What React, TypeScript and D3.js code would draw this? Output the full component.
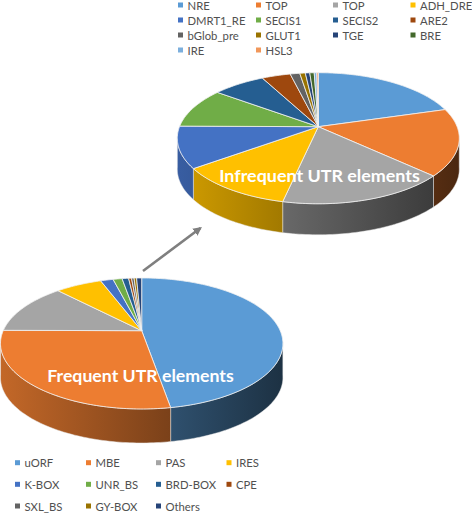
import React from "react";
import * as d3 from "d3";

const width = 472;
const height = 514;

// percent of each pie
const frequentNames = ["uORF", "MBE", "PAS", "IRES", "K-BOX", "UNR_BS", "BRD-BOX", "CPE", "SXL_BS", "GY-BOX", "Others"];
const frequentValues = [47.3, 27.8, 12.8, 6.4, 1.75, 1.25, 0.9, 0.4, 0.35, 0.35, 0.7];

const infrequentNames = ["NRE", "TOP", "TOP", "ADH_DRE", "DMRT1_RE", "SECIS1", "SECIS2", "ARE2", "bGlob_pre", "GLUT1", "TGE", "BRE", "IRE", "HSL3"];
const infrequentValues = [20.4, 16.5, 16.4, 11.5, 10.2, 10, 7.1, 3.9, 1.3, 0.75, 0.6, 0.6, 0.35, 0.2];

const palette = ["#5b9bd5", "#ed7d31", "#a5a5a5", "#ffc000", "#4472c4", "#70ad47", "#255e91", "#9e480e", "#636363", "#997300", "#264478", "#43682b", "#7cafdd", "#f1975a"];

const fontFamily = "Lato, 'Open Sans', sans-serif";

interface PieSpec {
  id: string;
  cx: number;
  cy: number;
  radius: number;
  squash: number;
  tilt: number; // perspective, moves the apex up from the ellipse centre
  depth: number;
}

const linePath = d3.line<[number, number]>().curve(d3.curveLinearClosed);

// rim point for an angle measured clockwise from the top
const project = (p: PieSpec, a: number, drop = 0): [number, number] => {
  const u = Math.sin(a);
  const v = -Math.cos(a);
  const w = 1 - p.tilt * v;
  return [p.cx + (p.radius * u) / w, p.cy + (p.squash * v) / w + drop];
};

const samples = (a0: number, a1: number) => {
  const n = Math.max(2, Math.ceil((a1 - a0) / 0.02));
  return d3.range(n + 1).map(i => a0 + ((a1 - a0) * i) / n);
};

const Pie3D: React.FC<{ spec: PieSpec; names: string[]; values: number[] }> = ({ spec, names, values }) => {
  const color = d3.scaleOrdinal<number, string>(d3.range(names.length), palette);
  const arcs = d3.pie<number>().sort(null)(values);

  const shade = d3
    .scaleLinear()
    .domain([spec.cx - spec.radius, spec.cx + spec.radius])
    .range([0.18, 0.68]);

  // only the near side of the wall shows
  const wallStart = Math.PI / 2 + Math.asin(spec.tilt) - 0.03;
  const wallEnd = (3 * Math.PI) / 2 - Math.asin(spec.tilt) + 0.03;

  const walls = arcs
    .map((d, i) => {
      const a0 = Math.max(d.startAngle, wallStart);
      const a1 = Math.min(d.endAngle, wallEnd);
      if (a1 <= a0) return null;
      const top = samples(a0, a1).map(a => project(spec, a));
      const bottom = samples(a0, a1)
        .reverse()
        .map(a => project(spec, a, spec.depth));
      return { i, d: linePath([...top, ...bottom]) as string };
    })
    .filter(w => w !== null) as { i: number; d: string }[];

  return (
    <g>
      <defs>
        {walls.map(w => {
          const base = color(w.i);
          return (
            <linearGradient
              key={w.i}
              id={`${spec.id}-wall-${w.i}`}
              gradientUnits="userSpaceOnUse"
              x1={spec.cx - spec.radius}
              x2={spec.cx + spec.radius}
              y1={0}
              y2={0}
            >
              <stop offset="0" stopColor={d3.interpolateRgb(base, "#000")(shade(spec.cx - spec.radius))} />
              <stop offset="1" stopColor={d3.interpolateRgb(base, "#000")(shade(spec.cx + spec.radius))} />
            </linearGradient>
          );
        })}
      </defs>
      {walls.map(w => (
        <path key={w.i} d={w.d} fill={`url(#${spec.id}-wall-${w.i})`} stroke="#e8e8e8" strokeWidth={0.6} strokeOpacity={0.8} />
      ))}
      {arcs.map((d, i) => {
        const rim = samples(d.startAngle, d.endAngle).map(a => project(spec, a));
        const apex: [number, number] = [spec.cx, spec.cy];
        return (
          <path key={i} d={linePath([apex, ...rim]) as string} fill={color(i)} stroke="#f2f2f2" strokeWidth={0.8} strokeLinejoin="round" />
        );
      })}
    </g>
  );
};

const Legend: React.FC<{ names: string[]; columns: number[]; rows: number[] }> = ({ names, columns, rows }) => {
  const color = d3.scaleOrdinal<number, string>(d3.range(names.length), palette);
  return (
    <g fontFamily={fontFamily} fontSize={11.3} fill="#505050">
      {names.map((name, i) => {
        const x = columns[i % columns.length];
        const y = rows[Math.floor(i / columns.length)];
        return (
          <g key={i}>
            <rect x={x} y={y - 2.5} width={5} height={5} fill={color(i)} />
            <text x={x + 9.5} y={y} dominantBaseline="central">
              {name}
            </text>
          </g>
        );
      })}
    </g>
  );
};

const frequentPie: PieSpec = { id: "freq", cx: 141.7, cy: 330.7, radius: 138.5, squash: 63, tilt: 0.195, depth: 34 };
const infrequentPie: PieSpec = { id: "infreq", cx: 318.3, cy: 126.7, radius: 138.8, squash: 63.5, tilt: 0.176, depth: 31 };

export default function App() {
  return (
    <svg width={width} height={height} style={{ position: "absolute", left: 0, top: 0, background: "#fff" }}>
      <defs>
        <marker id="arrow" viewBox="0 0 10 10" refX="8" refY="5" markerWidth="3.4" markerHeight="3.4" orient="auto">
          <path d="M0,0L10,5L0,10Z" fill="#7f7f7f" />
        </marker>
      </defs>

      <Legend names={infrequentNames} columns={[178, 256, 333, 410.5]} rows={[5, 20, 35, 50]} />
      <Pie3D spec={infrequentPie} names={infrequentNames} values={infrequentValues} />
      <text x={319.5} y={175} textAnchor="middle" dominantBaseline="central" fontFamily={fontFamily} fontWeight={700} fontSize={17.9} fill="#fff">
        Infrequent UTR elements
      </text>

      <line x1={143} y1={271} x2={200.5} y2={228} stroke="#7f7f7f" strokeWidth={2.6} markerEnd="url(#arrow)" />

      <Pie3D spec={frequentPie} names={frequentNames} values={frequentValues} />
      <text x={140.5} y={375} textAnchor="middle" dominantBaseline="central" fontFamily={fontFamily} fontWeight={700} fontSize={17.7} fill="#fff">
        Frequent UTR elements
      </text>
      <Legend names={frequentNames} columns={[15, 86, 156, 226.5]} rows={[462.7, 484.3, 506]} />
    </svg>
  );
}
